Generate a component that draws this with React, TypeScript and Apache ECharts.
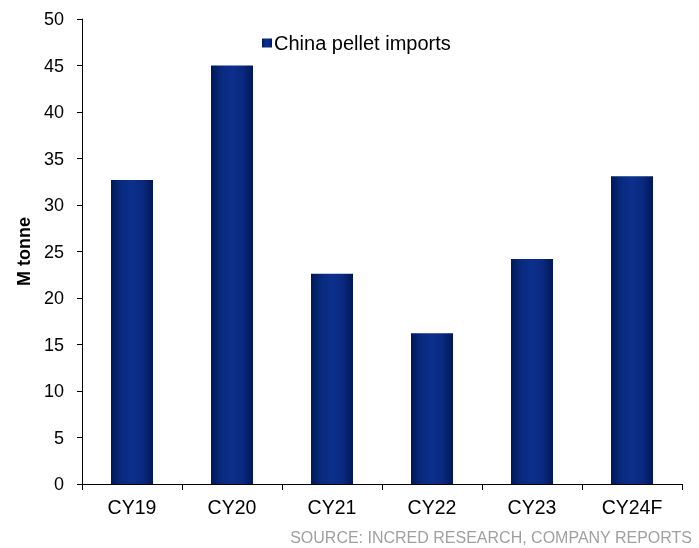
import React, { useEffect, useRef } from "react";
import * as echarts from "echarts";

const categories = ["CY19", "CY20", "CY21", "CY22", "CY23", "CY24F"];
const pelletImports = [32.7, 45.0, 22.6, 16.2, 24.2, 33.1];
const seriesName = "China pellet imports";
const yAxisName = "M tonne";
const sourceText = "SOURCE: INCRED RESEARCH, COMPANY REPORTS";

const FONT = "Liberation Sans, Arial, sans-serif";

export default function App() {
  const ref = useRef<HTMLDivElement>(null);
  useEffect(() => {
    if (!ref.current) return;
    const chart = echarts.init(ref.current, null, { renderer: "svg" });
    const barColor = new echarts.graphic.LinearGradient(0, 0, 1, 0, [
      { offset: 0, color: "#001858" },
      { offset: 0.25, color: "#082a7e" },
      { offset: 0.5, color: "#0c2f8c" },
      { offset: 0.75, color: "#092a80" },
      { offset: 1, color: "#001858" },
    ]);
    chart.setOption({
      animation: false,
      textStyle: { fontFamily: FONT },
      grid: { left: 82, right: 17, top: 19, bottom: 64, containLabel: false },
      legend: {
        data: [seriesName],
        left: 257,
        top: 28,
        icon: "rect",
        itemWidth: 10,
        itemHeight: 9,
        textStyle: { fontSize: 20, color: "#000", fontFamily: FONT, padding: [0, 0, 0, -3] },
      },
      xAxis: {
        type: "category",
        data: categories,
        axisLine: { lineStyle: { color: "#000", width: 1 } },
        axisTick: { show: true, alignWithLabel: false, length: 6, lineStyle: { color: "#000" } },
        axisLabel: { fontSize: 19.5, color: "#000", margin: 13, fontFamily: FONT },
      },
      yAxis: {
        type: "value",
        min: 0,
        max: 50,
        interval: 5,
        name: yAxisName,
        nameLocation: "middle",
        nameGap: 47,
        nameTextStyle: { fontSize: 18, fontWeight: "bold", color: "#000", fontFamily: FONT },
        axisLine: { show: true, lineStyle: { color: "#000", width: 1 } },
        axisTick: { show: true, length: 5, lineStyle: { color: "#000" } },
        axisLabel: { fontSize: 18, color: "#000", margin: 18, fontFamily: FONT },
        splitLine: { show: false },
      },
      series: [
        {
          name: seriesName,
          type: "bar",
          data: pelletImports,
          barWidth: "42%",
          itemStyle: { color: barColor },
        },
      ],
      graphic: [
        {
          type: "text",
          x: 692,
          y: 537,
          style: {
            text: sourceText,
            fontSize: 16,
            fill: "#a0a0a0",
            fontFamily: FONT,
            textAlign: "right",
            textVerticalAlign: "middle",
          },
        },
      ],
    });
    return () => chart.dispose();
  }, []);
  return (
    <div
      ref={ref}
      style={{ position: "fixed", left: 0, top: 0, width: 699, height: 548 }}
    />
  );
}
